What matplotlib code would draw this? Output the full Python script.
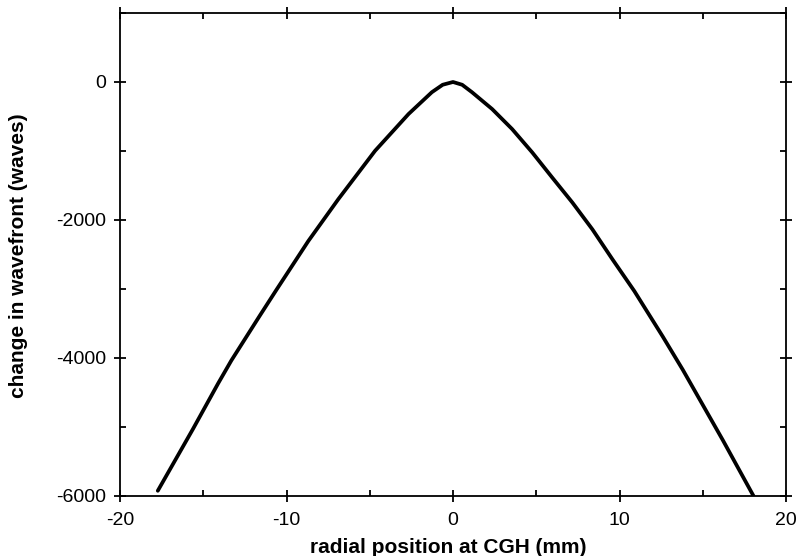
import matplotlib
matplotlib.use('Agg')
import matplotlib.pyplot as plt
from matplotlib.ticker import MultipleLocator

plt.rcParams['font.family'] = ['Liberation Sans', 'DejaVu Sans']
plt.rcParams['axes.unicode_minus'] = False

# radial position (mm) and wavefront change (waves)
r = [-17.73, -15.62, -14.11, -13.31, -11.6, -10.6, -8.69, -6.89, -4.68, -2.67,
     -1.27, -0.62, 0.0, 0.55, 1.14, 2.35, 3.55, 4.76, 5.96, 7.17, 8.37, 9.58,
     10.89, 12.59, 13.8, 16.2, 18.05]
w = [-5924, -5030, -4370, -4035, -3385, -3010, -2305, -1699, -997, -464,
     -148, -40, 0, -40, -148, -392, -682, -1021, -1385, -1747, -2135, -2571,
     -3030, -3686, -4170, -5188, -6000]

fig = plt.figure(figsize=(8.05, 5.56), dpi=100)
ax = fig.add_axes([120/805, 1-496/556, 666/805, 483/556])
ax.plot(r, w, color='black', lw=2.7, solid_capstyle='round', solid_joinstyle='round')

ax.set_xlim(-20, 20)
ax.set_ylim(-6000, 1000)
ax.xaxis.set_major_locator(MultipleLocator(10))
ax.xaxis.set_minor_locator(MultipleLocator(5))
ax.yaxis.set_major_locator(MultipleLocator(2000))
ax.yaxis.set_minor_locator(MultipleLocator(1000))
ax.tick_params(which='major', direction='inout', length=8.5, width=1.3, labelsize=14)
ax.tick_params(axis='x', which='major', pad=7)
ax.tick_params(axis='y', which='major', pad=6)
ax.tick_params(which='minor', direction='in', length=4, width=1.3)
ax.tick_params(which='both', top=True, right=True)
for s in ax.spines.values():
    s.set_linewidth(1.3)

fig.text(448/805, 3/556, 'radial position at CGH (mm)', fontsize=15, fontweight='bold',
         ha='center', va='baseline')
fig.text(19/805, 1-256/556, 'change in wavefront (waves)', fontsize=15, fontweight='bold',
         ha='center', va='center', rotation=90)

fig.savefig('out.png', dpi=100)
